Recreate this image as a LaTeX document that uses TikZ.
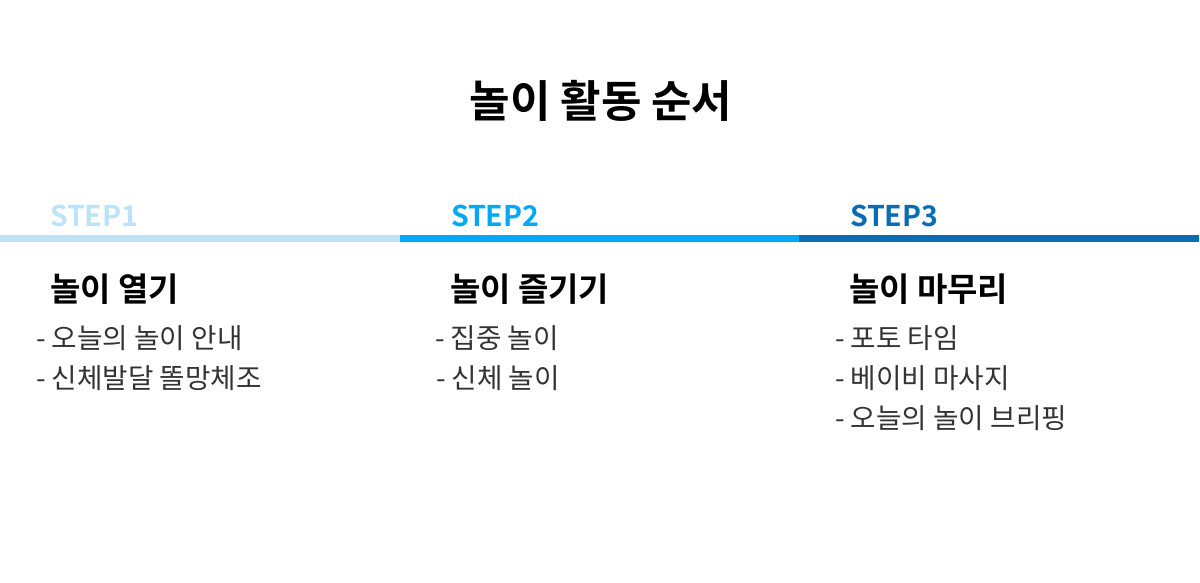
\documentclass[tikz,border=0pt]{standalone}
\usepackage{fontspec}
\setmainfont{Noto Sans CJK KR}
\newfontfamily\krbold{Noto Sans CJK KR Bold}
\definecolor{cone}{HTML}{BDE3FB}
\definecolor{ctwo}{HTML}{03A9F4}
\definecolor{cthree}{HTML}{0A6CB5}
\definecolor{itemc}{HTML}{333333}
\begin{document}
\begin{tikzpicture}[x=1pt,y=-1pt,
  every node/.style={inner sep=0pt,outer sep=0pt},
  titlet/.style={font=\krbold\fontsize{44}{52}\selectfont,text=black},
  steplab/.style={anchor=west,font=\krbold\fontsize{28.5}{32}\selectfont},
  headt/.style={anchor=west,font=\krbold\fontsize{33}{38}\selectfont,text=black},
  itemt/.style={anchor=west,font=\fontsize{27.7}{32}\selectfont,text=itemc},
  bar/.style={line width=7pt}]
\useasboundingbox (0,0) rectangle (1200,582);
\node[titlet] (title) at (601,101) {놀이 활동 순서};
% bars
\coordinate (b0) at (0,238.5);
\coordinate (b1) at (400,238.5);
\coordinate (b2) at (799,238.5);
\coordinate (b3) at (1199,238.5);
\draw[bar,cone] (b0) -- (b1);
\draw[bar,ctwo] (b1) -- (b2);
\draw[bar,cthree] (b2) -- (b3);
% step 1
\node[steplab,text=cone] (s1) at (50,215.5) {STEP1};
\node[headt] (h1) at (50,289) {놀이 열기};
\node[itemt] (i11) at (36,338) {- 오늘의 놀이 안내};
\node[itemt] (i12) at (36,378) {- 신체발달 똘망체조};
% step 2
\node[steplab,text=ctwo] (s2) at (451,215.5) {STEP2};
\node[headt] (h2) at (450,289) {놀이 즐기기};
\node[itemt] (i21) at (435,338) {- 집중 놀이};
\node[itemt] (i22) at (436,378) {- 신체 놀이};
% step 3
\node[steplab,text=cthree] (s3) at (850,215.5) {STEP3};
\node[headt] (h3) at (849,289) {놀이 마무리};
\node[itemt] (i31) at (835,338) {- 포토 타임};
\node[itemt] (i32) at (835,378) {- 베이비 마사지};
\node[itemt] (i33) at (835,418) {- 오늘의 놀이 브리핑};
\end{tikzpicture}
\end{document}
